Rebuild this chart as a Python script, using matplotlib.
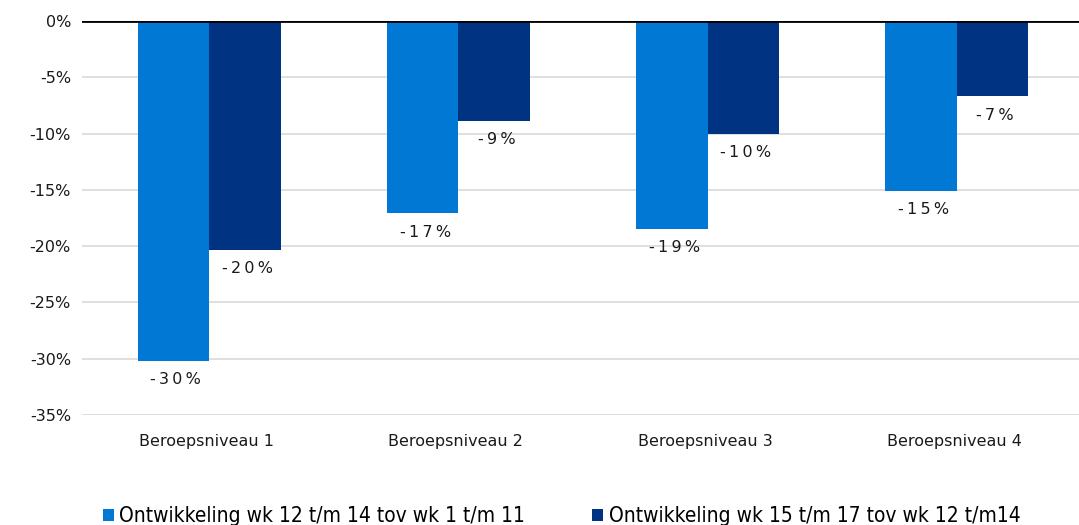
import numpy as np
import matplotlib.pyplot as plt

# data
categories = ['Beroepsniveau 1', 'Beroepsniveau 2', 'Beroepsniveau 3', 'Beroepsniveau 4']
serie_1 = [-30.2, -17.1, -18.5, -15.1]
serie_2 = [-20.3, -8.9, -10.0, -6.7]
labels_1 = ['-30%', '-17%', '-19%', '-15%']
labels_2 = ['-20%', '-9%', '-10%', '-7%']
legend_names = ['Ontwikkeling wk 12 t/m 14 tov wk 1 t/m 11',
                'Ontwikkeling wk 15 t/m 17 tov wk 12 t/m14']

c_light = '#0078D4'
c_dark = '#003382'

plt.rcParams['font.family'] = ['DejaVu Sans']

fig = plt.figure(figsize=(10.79, 5.25), dpi=100)
ax = fig.add_axes([82 / 1079, 1 - 415 / 525, 1 - 82 / 1079, (415 - 21) / 525])

x = np.arange(len(categories))
w = 0.287
b1 = ax.bar(x - w / 2 + 0.01, serie_1, w, color=c_light, label=legend_names[0], zorder=2)
b2 = ax.bar(x + w / 2 + 0.01, serie_2, w, color=c_dark, label=legend_names[1], zorder=2)

# data labels below the bar ends, with a little letter spacing
for bars, labs in ((b1, labels_1), (b2, labels_2)):
    for rect, lab in zip(bars, labs):
        ax.annotate('\u2009'.join(lab),
                    (rect.get_x() + rect.get_width() / 2 + 0.01, rect.get_height()),
                    xytext=(0, -8), textcoords='offset points',
                    ha='center', va='top', fontsize=11.5, color='#1a1a1a')

ax.set_ylim(-35, 0)
ax.set_xlim(-0.5, 3.5)
ax.set_yticks(np.arange(-35, 1, 5))
ax.set_yticklabels([f'{v}%' for v in range(-35, 1, 5)], fontsize=11.5)
ax.set_xticks(x)
ax.set_xticklabels(categories, fontsize=11.5)
ax.tick_params(axis='both', length=0, pad=8, colors='#1a1a1a')
ax.tick_params(axis='x', pad=14)
ax.grid(axis='y', color='#d9d9d9', linewidth=1.2, zorder=0)
ax.set_axisbelow(True)
for s in ax.spines.values():
    s.set_visible(False)
ax.axhline(0, color='black', linewidth=2, zorder=3)

fig.legend(loc='lower left', bbox_to_anchor=(84 / 1079, -0.038), ncol=2,
           frameon=False, handlelength=0.55, handleheight=0.55, handletextpad=0.25,
           columnspacing=3.2,
           prop={'family': 'DejaVu Sans', 'stretch': 'condensed', 'size': 15})

fig.savefig('out.png', dpi=100)
